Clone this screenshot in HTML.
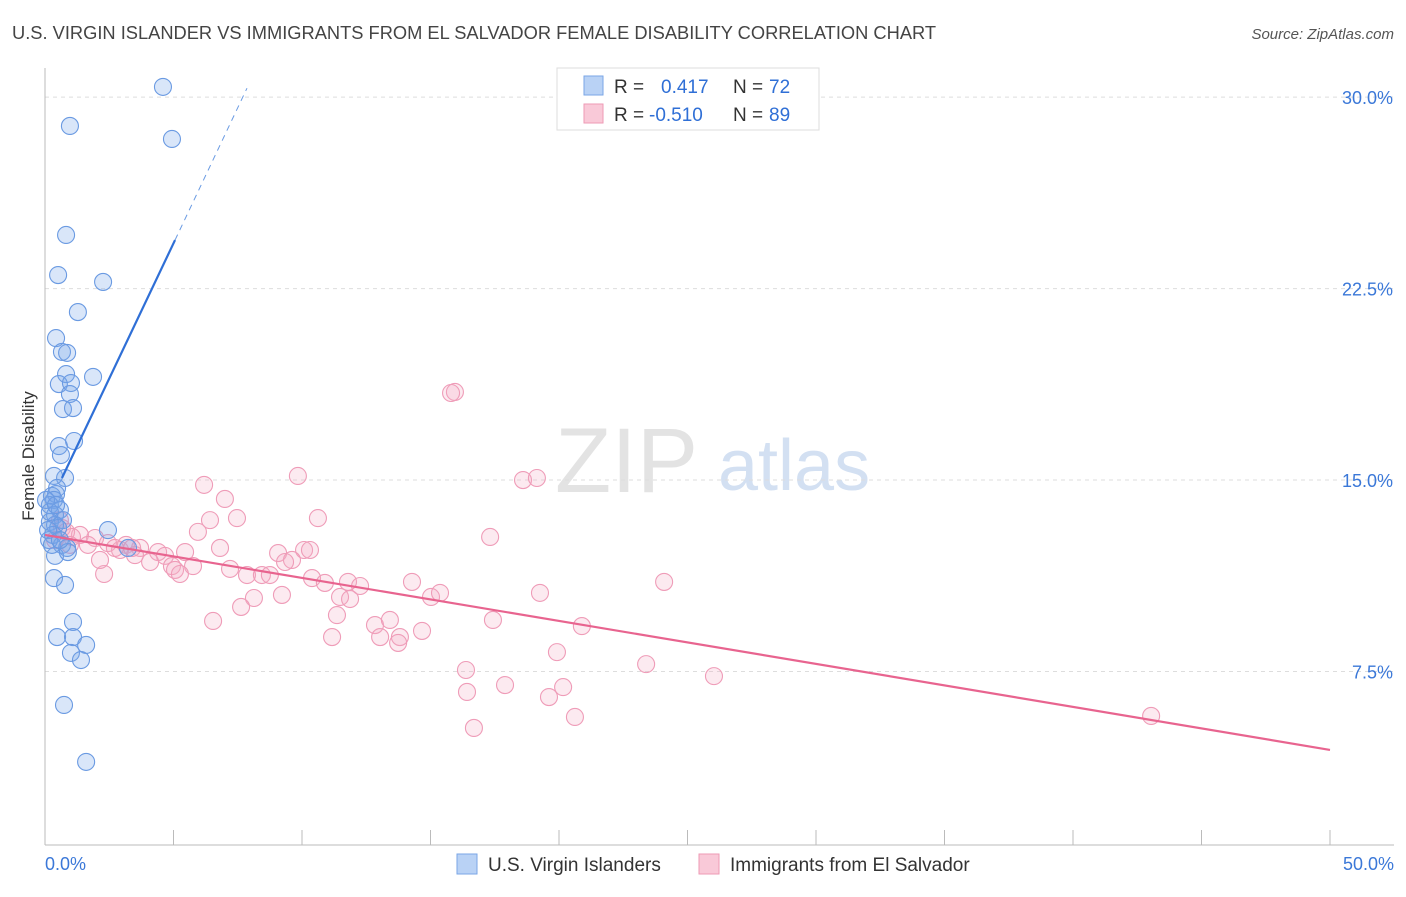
<!DOCTYPE html>
<html><head><meta charset="utf-8"><style>
body{margin:0;background:#fff;font-family:"Liberation Sans",sans-serif;}
svg text{font-family:"Liberation Sans",sans-serif;}
</style></head><body>
<svg id="chart" width="1406" height="892" xmlns="http://www.w3.org/2000/svg">
<text x="12" y="39" font-size="18.3" fill="#444">U.S. VIRGIN ISLANDER VS IMMIGRANTS FROM EL SALVADOR FEMALE DISABILITY CORRELATION CHART</text>
<text x="1394" y="39" font-size="15" fill="#555" text-anchor="end" font-style="italic">Source: ZipAtlas.com</text>
<text x="555" y="492" font-size="92" fill="#ddd" font-family="Liberation Serif" opacity="0.8">ZIP</text>
<text x="718" y="490" font-size="72" fill="#c9d9f0" opacity="0.8">atlas</text>
<g id="grid"></g>
<g id="axes"></g>
<g id="pink"></g>
<g id="blue"></g>
<g id="trends"></g>
<text transform="translate(34,456) rotate(-90)" font-size="17" fill="#333" text-anchor="middle">Female Disability</text>
<g>
<rect x="557" y="68" width="262" height="62" fill="#fff" stroke="#ddd"/>
<rect x="584" y="76" width="19" height="19" fill="#b9d2f5" stroke="#7aa6e6"/>
<rect x="584" y="104" width="19" height="19" fill="#f9c9d8" stroke="#ee9ab5"/>
<text x="614" y="93" font-size="19" fill="#333">R =</text><text x="661" y="93" font-size="19" fill="#2f6fd6">0.417</text>
<text x="733" y="93" font-size="19" fill="#333">N =</text><text x="769" y="93" font-size="19" fill="#2f6fd6">72</text>
<text x="614" y="121" font-size="19" fill="#333">R =</text><text x="649" y="121" font-size="19" fill="#2f6fd6">-0.510</text>
<text x="733" y="121" font-size="19" fill="#333">N =</text><text x="769" y="121" font-size="19" fill="#2f6fd6">89</text>
</g>
<g>
<rect x="457" y="854" width="20" height="20" fill="#b9d2f5" stroke="#7aa6e6"/>
<text x="488" y="871" font-size="19" fill="#333">U.S. Virgin Islanders</text>
<rect x="699" y="854" width="20" height="20" fill="#f9c9d8" stroke="#ee9ab5"/>
<text x="730" y="871" font-size="19" fill="#333">Immigrants from El Salvador</text>
</g>
</svg>
<script>
const yTicks=[7.5,15,22.5,30];
const yTickLabels=["7.5%","15.0%","22.5%","30.0%"];
const xTickLabels=["0.0%","50.0%"];
const blueX=[4.59,0.97,4.94,0.82,0.51,2.26,1.28,0.43,0.66,0.86,0.82,1.87,0.54,1.01,0.97,0.70,1.09,1.13,0.54,0.62,0.78,0.35,0.47,0.27,0.43,0.35,0.19,0.58,0.39,0.70,0.19,0.39,0.51,0.31,0.16,0.66,0.86,2.45,3.23,0.39,0.89,0.35,0.78,1.09,0.47,1.09,1.60,1.01,1.40,0.74,1.60,0.19,0.12,0.27,0.58,0.04,0.43];
const blueY=[30.4,28.87,28.36,24.6,23.03,22.76,21.58,20.56,20.02,19.98,19.15,19.04,18.76,18.80,18.37,17.78,17.82,16.53,16.33,15.98,15.08,15.16,14.69,14.38,14.45,14.22,14.02,13.83,13.63,13.43,13.36,13.24,13.12,12.85,12.65,12.46,12.34,13.04,12.34,12.03,12.18,11.16,10.89,9.44,8.85,8.85,8.54,8.23,7.95,6.19,3.96,13.75,13.04,12.46,12.65,14.22,14.02];
const pinkX=[15.95,15.80,9.84,18.60,19.14,6.19,7.00,6.42,7.47,10.62,5.95,17.32,1.36,1.95,2.45,3.15,3.70,4.40,4.67,5.45,6.81,9.07,10.08,10.31,9.61,2.92,3.50,4.09,4.94,5.76,7.20,7.86,8.44,8.75,9.34,10.39,10.89,11.79,12.26,14.28,2.30,5.06,5.25,8.13,9.22,11.48,11.87,15.02,15.37,19.26,24.09,6.54,7.63,11.36,12.84,13.42,17.43,20.89,11.17,13.04,13.81,13.74,14.67,19.92,23.39,26.03,16.38,17.90,16.42,19.61,20.16,20.62,16.69,43.04,0.58,0.66,0.82,1.05,1.67,0.39,0.97,2.14,2.72,3.39];
const pinkY=[18.45,18.41,15.16,15.00,15.08,14.81,14.26,13.43,13.51,13.51,12.97,12.77,12.85,12.73,12.53,12.46,12.34,12.18,12.03,12.18,12.34,12.14,12.26,12.26,11.87,12.26,12.06,11.79,11.63,11.63,11.52,11.28,11.28,11.28,11.79,11.16,10.97,11.01,10.85,11.01,11.32,11.48,11.32,10.38,10.50,10.42,10.34,10.42,10.58,10.58,11.01,9.48,10.03,9.71,9.32,9.52,9.52,9.28,8.85,8.85,8.85,8.62,9.09,8.26,7.79,7.32,7.56,6.97,6.70,6.50,6.89,5.72,5.29,5.76,13.43,13.12,12.97,12.77,12.46,12.65,12.46,11.87,12.34,12.34];
const blueTrend=[[0.66,15.08],[5.06,24.4],[7.86,30.35]];
const pinkTrend=[[0,12.85],[50,4.43]];
const NS="http://www.w3.org/2000/svg";
const X=v=>45+v*25.7, Y=v=>863-v*25.53;
function mk(tag,attrs,parent){const e=document.createElementNS(NS,tag);for(const k in attrs)e.setAttribute(k,attrs[k]);document.getElementById(parent).appendChild(e);return e;}
yTicks.forEach((t,i)=>{
 const g=mk('line',{x1:45,x2:1394,y1:Y(t),y2:Y(t),stroke:'#ddd','stroke-dasharray':'4,4'},'grid');
 
 
 const l=mk('text',{x:1393,y:Y(t)+7,'font-size':18,fill:'#3b78d8','text-anchor':'end'},'grid');
 l.textContent=yTickLabels[i];
 
 
});
const ax=mk('line',{x1:45,x2:45,y1:68,y2:845,stroke:'#bbb'},'axes');


const bx=mk('line',{x1:45,x2:1394,y1:845,y2:845,stroke:'#bbb'},'axes');


for(let i=0;i<=10;i++){const t=mk('line',{x1:X(i*5),x2:X(i*5),y1:830,y2:845,stroke:'#bbb'},'axes');
 
 }
[[0,'start',45],[50,'end',1394]].forEach((d,i)=>{const t=mk('text',{x:d[2],y:870,'font-size':18,fill:'#3b78d8','text-anchor':d[1]},'axes');t.textContent=xTickLabels[i];
 
 });
pinkX.forEach((v,i)=>{const c=mk('circle',{cx:X(v),cy:Y(pinkY[i]),r:8.5,fill:'rgba(244,170,195,0.25)',stroke:'#ef9cb8','stroke-width':1.1},'pink');
 
 });
blueX.forEach((v,i)=>{const c=mk('circle',{cx:X(v),cy:Y(blueY[i]),r:8.5,fill:'rgba(120,165,235,0.28)',stroke:'#6a9ae2','stroke-width':1.1},'blue');
 
 });
const p=mk('line',{x1:X(pinkTrend[0][0]),y1:Y(pinkTrend[0][1]),x2:X(pinkTrend[1][0]),y2:Y(pinkTrend[1][1]),stroke:'#e8648f','stroke-width':2.2},'trends');


const b=mk('line',{x1:X(blueTrend[0][0]),y1:Y(blueTrend[0][1]),x2:X(blueTrend[1][0]),y2:Y(blueTrend[1][1]),stroke:'#2f6fd6','stroke-width':2.2},'trends');


const bd=mk('line',{x1:X(blueTrend[1][0]),y1:Y(blueTrend[1][1]),x2:X(blueTrend[2][0]),y2:Y(blueTrend[2][1]),stroke:'#6a9be3','stroke-width':1,'stroke-dasharray':'6,5'},'trends');


</script>
</body></html>
